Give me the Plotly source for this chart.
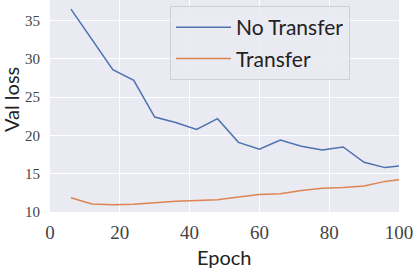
import plotly.graph_objects as go

epochs = [6, 12, 18, 24, 30, 36, 42, 48, 54, 60, 66, 72, 78, 84, 90, 96, 100]
no_transfer = [36.5, 32.5, 28.6, 27.2, 22.4, 21.7, 20.8, 22.2, 19.1, 18.2, 19.4, 18.6, 18.1, 18.5, 16.5, 15.8, 16.0]
transfer = [11.87, 11.05, 10.95, 11.0, 11.2, 11.4, 11.5, 11.6, 11.95, 12.3, 12.4, 12.8, 13.1, 13.2, 13.4, 14.0, 14.2]
x_ticks = [0, 20, 40, 60, 80, 100]
y_ticks = [10, 15, 20, 25, 30, 35]

L, R, T, B, W, H = 50, 16, 0, 56, 415, 268
pw, ph = W - L - R, H - T - B

fig = go.Figure()
fig.add_trace(go.Scatter(x=epochs, y=no_transfer, mode="lines", name="No Transfer",
                         legendgroup="a", line=dict(color="#4C72B0", width=1.5)))
fig.add_trace(go.Scatter(x=epochs, y=transfer, mode="lines", name="Transfer",
                         legendgroup="b", line=dict(color="#DD8452", width=1.5)))

title_font = dict(family="Lato, DejaVu Sans", size=20, color="#222222")
fig.update_layout(
    width=W, height=H,
    margin=dict(l=L, r=R, t=T, b=B, autoexpand=False),
    paper_bgcolor="white", plot_bgcolor="#EAEAF2",
    showlegend=True,
    legend=dict(x=(170 - L) / pw, y=1 - 6 / ph, xanchor="left", yanchor="top",
                bgcolor="rgba(234,234,242,0.85)", bordercolor="#CFCFD6", borderwidth=1,
                font=dict(family="Lato, DejaVu Sans", size=21, color="#222222"),
                tracegroupgap=1, traceorder="grouped", itemwidth=55),
    annotations=[
        dict(text="Epoch", xref="paper", yref="paper", x=0.5, y=-(257 - ph) / ph,
             xanchor="center", yanchor="middle", showarrow=False, font=title_font),
        dict(text="Val loss", xref="paper", yref="paper", x=(11 - L) / pw, y=1 - 100 / ph,
             xanchor="center", yanchor="middle", showarrow=False, textangle=-90,
             font=title_font),
    ],
)
fig.update_xaxes(range=[0, 100], tickvals=x_ticks, ticktext=[str(v) for v in x_ticks],
                 showgrid=True, gridcolor="white", gridwidth=1, zeroline=False,
                 showline=False, ticks="", ticklabelstandoff=7, automargin=False,
                 tickfont=dict(family="Liberation Serif, DejaVu Serif", size=19, color="#444444"))
fig.update_yaxes(range=[10, 37.7], tickvals=y_ticks, ticktext=[str(v) for v in y_ticks],
                 showgrid=True, gridcolor="white", gridwidth=1, zeroline=False,
                 showline=False, ticks="", ticklabelstandoff=9, automargin=False,
                 tickfont=dict(family="Liberation Serif, DejaVu Serif", size=15, color="#444444"))

fig.write_html("out.html", config={"displayModeBar": False},
               post_script="document.body.style.margin='0';document.body.style.overflow='hidden';")
